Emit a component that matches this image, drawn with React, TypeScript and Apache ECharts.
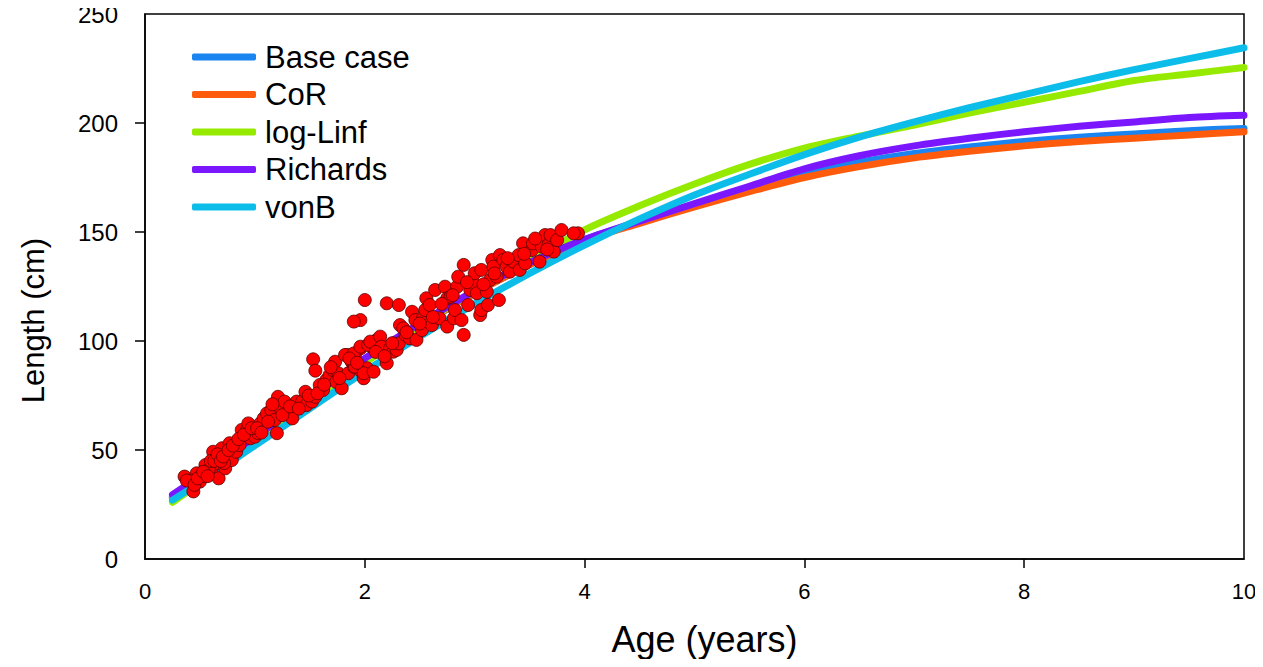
import React, { useEffect, useRef } from "react";
import * as echarts from "echarts";

const ages = [0.25, 0.5, 1, 1.5, 2, 2.5, 3, 3.5, 4, 4.5, 5, 5.5, 6, 6.5, 7, 7.5, 8, 8.5, 9, 9.5, 10];

const baseCase = [28.5, 37, 55, 73, 91, 107, 122, 135, 146.5, 154.5, 162.5, 170, 177, 182, 186, 189, 191.5, 193.5, 195, 196.5, 197.5];
const cor = [28, 37, 55, 73, 91, 107, 122, 135, 146, 154, 161.5, 168.5, 175, 180, 184, 187, 189.5, 191.5, 193, 194.5, 196];
const logLinf = [26, 35, 54, 72, 90, 107, 123, 137, 151, 162, 172, 181, 188.5, 194, 199, 204.5, 209.5, 214.5, 219.5, 222.5, 225.5];
const richards = [29.5, 38, 56, 74, 92, 108, 123, 136, 146.5, 155, 163, 171, 179, 185, 189.5, 193, 196, 198.5, 200.5, 202.5, 203.5];
const vonB = [27, 35, 52, 69, 86, 102, 117, 131, 144, 156, 167, 176.5, 185.5, 193.5, 200.5, 207, 213, 219, 224.5, 229.5, 234.5];

const obsAge = [
  0.36, 0.44, 0.47, 0.5, 0.55, 0.61, 0.62, 0.65, 0.67, 0.7, 0.73, 0.74, 0.77, 0.79, 0.83, 0.86, 0.88, 0.93, 0.94, 0.96,
  1.0, 1.03, 1.05, 1.08, 1.11, 1.15, 1.18, 1.2, 1.21, 1.24, 1.27, 1.3, 1.34, 1.38, 1.43, 1.46, 1.47, 1.52, 1.55, 1.59,
  1.62, 1.65, 1.68, 1.71, 1.73, 1.74, 1.76, 1.79, 1.84, 1.85, 1.88, 1.9, 1.91, 1.96, 1.97, 1.99, 2.02, 2.05, 2.08, 2.11,
  1.53, 1.55, 1.82, 1.9, 1.91, 1.99, 2.08, 1.96, 2.03, 2.05, 2.14, 2.15, 2.2, 2.23, 2.26, 2.29, 2.31, 2.32, 2.35, 2.37,
  2.41, 2.43, 2.46, 2.47, 2.52, 2.53, 2.55, 2.56, 2.59, 2.61, 2.64, 2.68, 2.73, 2.75, 2.75, 2.78, 2.81, 2.82, 2.84, 2.88,
  2.9, 2.85, 2.9, 2.94, 2.96, 2.99, 3.0, 3.02, 3.05, 3.06, 3.06, 3.11, 3.12, 3.14, 3.16, 3.17, 3.22, 3.2, 3.23, 3.26,
  3.29, 3.32, 3.35, 3.4, 3.41, 3.44, 3.46, 3.52, 3.53, 3.59, 3.61, 3.64, 3.67, 3.69, 3.72, 3.75, 3.79, 3.94, 3.9, 1.96,
  2.0, 2.2, 2.31, 1.9, 0.42, 0.52, 0.58, 0.6, 0.68, 0.72,
  0.38, 0.45, 0.48, 0.53, 0.57, 0.63, 0.66, 0.69, 0.71, 0.76, 0.8, 0.85, 0.9, 0.97, 1.02, 1.06, 1.12, 1.16, 1.25, 1.32,
  1.4, 1.49, 1.57, 1.63, 1.69, 1.77, 1.86, 1.93, 2.1, 2.18, 2.25, 2.38, 2.5, 2.62, 2.7, 2.8, 2.93, 3.08, 3.18, 3.3,
  3.45, 3.55, 3.66
];
const obsLen = [
  37.8, 31, 39.3, 35.5, 43.1, 39.3, 49.2, 43.9, 37, 50.8, 41.6, 46.9, 53.1, 45.4, 49.2, 52.3, 59.2, 59.2, 62.2, 55.4,
  56.1, 57.7, 62.2, 64.5, 66.8, 68.3, 63.8, 57.7, 74.4, 68.3, 72.2, 66.8, 64.5, 72.2, 72.2, 76.7, 70.6, 72.2, 74.4, 79.8,
  77.5, 82.1, 84.4, 86.7, 90.5, 81.3, 85.2, 78.3, 93.6, 85.2, 90.5, 88.2, 93.6, 96.6, 85.9, 82.9, 87.5, 98.9, 96.6, 100.5,
  91.6, 86.4, 93.6, 94.3, 88.2, 85.2, 85.9, 97.4, 98.2, 99.7, 102, 97.4, 89.8, 96.6, 95.1, 95.9, 98.9, 107.3, 105.8, 102.8,
  101.2, 113.4, 109.6, 100.5, 105, 110.4, 114.2, 119.6, 116.5, 107.3, 123.4, 110.4, 124.9, 106.6, 119.6, 120.3, 110.4, 114.2, 124.9, 109.6,
  102.8, 129.5, 134.9, 116.5, 123.4, 126.5, 131.1, 121.9, 111.9, 114.2, 132.6, 122.6, 116.5, 128, 137.2, 134.1, 118.8, 129.5, 139.4, 137.2,
  134.1, 131.8, 136.4, 139.4, 132.6, 144.8, 135.6, 141.7, 144.8, 136.4, 143.3, 148.6, 144, 148.6, 141, 146.3, 150.9, 149.4, 149.4, 109.6,
  118.8, 117.3, 116.5, 108.9, 36, 38, 41, 45, 47, 44,
  36, 34, 37, 40, 38, 45, 48, 45, 47, 50, 52, 55, 57, 60, 60, 58, 63, 71, 66, 70,
  69, 75, 76, 80, 88, 83, 92, 90, 95, 93, 99, 104, 108, 111, 117, 121, 127, 126, 131, 138,
  140, 147, 142
];

const seriesNames = ["Base case", "CoR", "log-Linf", "Richards", "vonB"];
const seriesColors = ["#1a84f0", "#ff5b0d", "#96ea00", "#7b17ff", "#0dbde9"];
const seriesValues = [baseCase, cor, logLinf, richards, vonB];

const FONT = "'Liberation Sans', Arial, sans-serif";

export default function App() {
  const ref = useRef<HTMLDivElement>(null);
  useEffect(() => {
    if (!ref.current) return;
    const chart = echarts.init(ref.current, null, { renderer: "svg" });
    const lineSeries = seriesNames.map((name, i) => ({
      name,
      type: "line",
      data: ages.map((a, j) => [a, seriesValues[i][j]]),
      smooth: 0.3,
      symbol: "none",
      lineStyle: { color: seriesColors[i], width: 7, cap: "round", join: "round" },
      itemStyle: { color: seriesColors[i] },
      z: 2,
    }));
    chart.setOption({
      animation: false,
      textStyle: { fontFamily: FONT },
      grid: {
        left: 145,
        right: 19,
        top: 14,
        bottom: 108,
        show: true,
        borderColor: "#000",
        borderWidth: 1.5,
        backgroundColor: "transparent",
      },
      legend: {
        data: seriesNames,
        orient: "vertical",
        left: 187,
        top: 34,
        itemWidth: 64,
        itemHeight: 7,
        itemGap: 1.5,
        icon: "roundRect",
        textStyle: { fontSize: 31, color: "#000", fontFamily: FONT, lineHeight: 36, padding: [0, 0, 0, 4] },
      },
      xAxis: {
        type: "value",
        min: 0,
        max: 10,
        interval: 2,
        name: "Age (years)",
        nameLocation: "middle",
        nameGap: 62,
        nameTextStyle: { fontSize: 36, color: "#000", fontFamily: FONT, padding: [0, 0, 0, 20] },
        axisLine: { show: true, lineStyle: { color: "#000", width: 1.5 } },
        axisTick: { show: true, inside: false, length: 9, lineStyle: { color: "#000", width: 1.5 }, customValues: [2, 4, 6, 8] },
        axisLabel: { fontSize: 22, color: "#000", margin: 21, fontFamily: FONT },
        splitLine: { show: false },
      },
      yAxis: {
        type: "value",
        min: 0,
        max: 250,
        interval: 50,
        name: "Length (cm)",
        nameLocation: "middle",
        nameGap: 96,
        nameRotate: 90,
        nameTextStyle: { fontSize: 31, color: "#000", fontFamily: FONT, padding: [0, 68, 0, 0] },
        axisLine: { show: true, lineStyle: { color: "#000", width: 1.5 } },
        axisTick: { show: true, inside: false, length: 10, lineStyle: { color: "#000", width: 1.5 }, customValues: [50, 100, 150, 200] },
        axisLabel: { fontSize: 24, color: "#000", margin: 27, fontFamily: FONT, verticalAlign: "middle", padding: [4, 0, 0, 0] },
        splitLine: { show: false },
      },
      series: [
        ...lineSeries,
        {
          name: "Observed",
          type: "scatter",
          data: obsAge.map((a, i) => [a, obsLen[i]]),
          symbol: "circle",
          symbolSize: 13,
          itemStyle: { color: "#ff0000", borderColor: "#5a0000", borderWidth: 0.8, opacity: 1 },
          z: 3,
        },
      ],
    });
    return () => chart.dispose();
  }, []);
  return <div ref={ref} style={{ width: 1263, height: 667, margin: -8 }} />;
}
